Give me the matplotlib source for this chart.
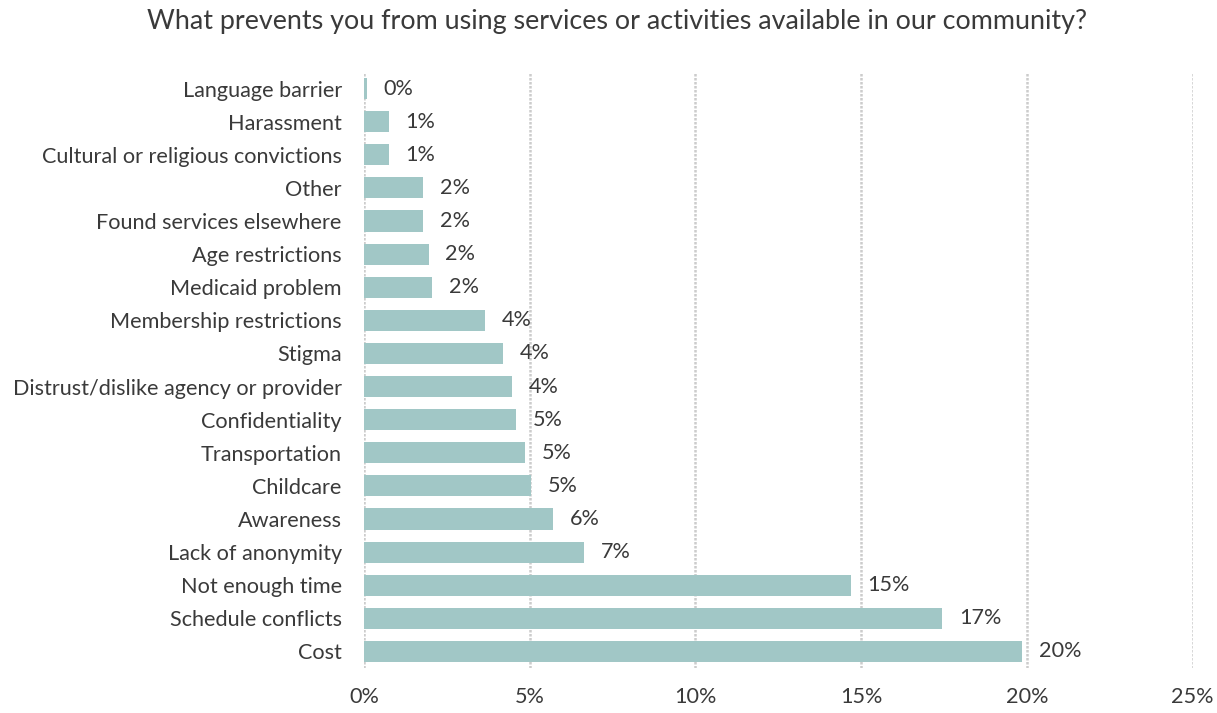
import matplotlib
matplotlib.use("Agg")
import matplotlib.pyplot as plt
import matplotlib.ticker as mtick

# categories top -> bottom as shown in the chart
categories = [
    "Language barrier",
    "Harassment",
    "Cultural or religious convictions",
    "Other",
    "Found services elsewhere",
    "Age restrictions",
    "Medicaid problem",
    "Membership restrictions",
    "Stigma",
    "Distrust/dislike agency or provider",
    "Confidentiality",
    "Transportation",
    "Childcare",
    "Awareness",
    "Lack of anonymity",
    "Not enough time",
    "Schedule conflicts",
    "Cost",
]
shares = [
    0.08, 0.75, 0.75, 1.78, 1.78, 1.95, 2.06, 3.64, 4.2,
    4.47, 4.59, 4.85, 5.03, 5.71, 6.64, 14.69, 17.45, 19.85,
]
x_ticks = [0, 5, 10, 15, 20, 25]

title = "What prevents you from using services or activities available in our community?"

plt.rcParams["font.family"] = ["Lato", "DejaVu Sans"]

BAR = "#a1c7c6"
TXT = "#3a3a3a"
FS = 15.6

fig = plt.figure(figsize=(12.17, 7.13), dpi=100)
ax = fig.add_axes([364 / 1217, 1 - 668 / 713, (1192.7 - 364) / 1217, (668 - 72) / 713])

y = list(range(len(categories)))
ax.barh(y, shares, height=0.64, color=BAR, zorder=3)

ax.set_ylim(len(categories) - 0.5, -0.5)
ax.set_yticks(y)
ax.set_yticklabels(categories, fontsize=FS, color=TXT)
ax.set_xlim(0, 25)
ax.set_xticks(x_ticks)
ax.xaxis.set_major_formatter(mtick.FuncFormatter(lambda v, _: f"{v:.0f}%"))
ax.tick_params(axis="x", length=0, pad=14, labelsize=FS, labelcolor=TXT)
ax.tick_params(axis="y", length=0, pad=16)

ax.grid(True, axis="x", color="#cccccc", linewidth=1.8, linestyle=(0, (1, 0.6)), zorder=0)
for s in ax.spines.values():
    s.set_visible(False)

for yi, v in zip(y, shares):
    ax.annotate(f"{v:.0f}%", xy=(v, yi), xytext=(12, 0), textcoords="offset points",
                va="center", ha="left", fontsize=FS, color=TXT)

fig.text(0.507, 1 - 22 / 713, title, ha="center", va="center", fontsize=19.4, color=TXT)

fig.savefig("out.png", dpi=100)
